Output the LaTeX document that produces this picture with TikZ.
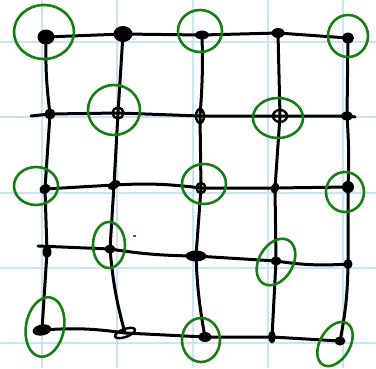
\documentclass[tikz,border=0pt]{standalone}
\usetikzlibrary{shapes.geometric}
\pgfdeclarelayer{bg}
\pgfsetlayers{bg,main}
\definecolor{gridblue}{RGB}{200,228,245}
\definecolor{ringgreen}{RGB}{20,128,20}
\tikzset{
  gridline/.style={gridblue, line width=1.6pt},
  edge/.style={black, line width=3pt, line cap=round, line join=round},
  dot/.style 2 args={ellipse, fill=black, inner sep=0pt, minimum width=#1, minimum height=#2},
  hole/.style 2 args={ellipse, draw=black, line width=2.4pt, inner sep=0pt, minimum width=#1, minimum height=#2},
  ring/.style={ringgreen, line width=2.6pt},
}
\begin{document}
\begin{tikzpicture}[x=1pt,y=1pt]
\useasboundingbox (0,0) rectangle (376,-368);
% nodes
\node[dot={17pt}{15pt}] (n11) at (46,-37) {};
\node[dot={19pt}{16pt}] (n12) at (123,-34) {};
\node[dot={14pt}{9pt}]  (n13) at (202,-35) {};
\node[dot={13pt}{10pt}] (n14) at (278,-33) {};
\node[dot={12pt}{11pt}] (n15) at (348,-38) {};
\node[dot={11pt}{11pt}] (n21) at (50,-114) {};
\node[hole={11pt}{11pt}] (n22) at (118,-113) {};
\node[hole={8pt}{14pt}] (n23) at (200,-116) {};
\node[hole={14pt}{12pt}] (n24) at (280,-116) {};
\node[dot={12pt}{9pt}]  (n25) at (347,-116) {};
\node[dot={12pt}{9pt},rotate=30] (n31) at (45,-189) {};
\node[dot={13pt}{8pt},rotate=30] (n32) at (114,-185) {};
\node[hole={9pt}{10pt}] (n33) at (201,-188) {};
\node[dot={8pt}{11pt},rotate=-20] (n34) at (275,-188) {};
\node[dot={12pt}{12pt}] (n35) at (348,-187) {};
\node[dot={9pt}{12pt}]  (n41) at (47,-252) {};
\node[dot={11pt}{9pt}]  (n42) at (110,-249) {};
\node[dot={21pt}{11pt}] (n43) at (196,-256) {};
\node[dot={11pt}{9pt}]  (n44) at (276,-261) {};
\node[dot={9pt}{10pt}]  (n45) at (348,-264) {};
\node[dot={19pt}{11pt},rotate=10] (n51) at (42,-330) {};
\node[hole={21pt}{8pt},rotate=20] (n52) at (125,-333) {};
\node[dot={13pt}{10pt}] (n53) at (205,-337) {};
\node[dot={7pt}{13pt}]  (n54) at (272,-337) {};
\node[dot={11pt}{9pt}]  (n55) at (340,-341) {};
\coordinate (s2) at (31,-116);
\coordinate (e2) at (355,-117);
\coordinate (s4) at (38,-246);
\begin{pgfonlayer}{bg}
  % graph paper
  \foreach \v in {42,117,193,268,343} {
    \draw[gridline] (\v,0) -- (\v,-368);
    \draw[gridline] (0,-\v) -- (376,-\v);
  }
  % rows
  \draw[edge] (n11.center) -- (n12.center) -- (n13.center) -- (n14.center) -- (n15.center);
  \draw[edge] (s2) -- (n21.center) -- (n22.center) -- (n23.center) -- (n24.center) -- (n25.center) -- (e2);
  \draw[edge] (n31.center) -- (n32.center) to[bend left=5] (n33.center) -- (n34.center) -- (n35.center);
  \draw[edge] (s4) -- (n42.center) to[bend right=4] (n43.center) -- (n44.center) to[bend right=6] (n45.center);
  \draw[edge] (n51.center) to[bend left=6] (n52.center) -- (n53.center) -- (n54.center) -- (n55.center);
  % columns
  \draw[edge] (n11.center) to[bend right=4] (n21.center) -- (n31.center) -- (n41.center) -- (n51.center);
  \draw[edge] (n12.center) -- (n22.center) -- (n32.center) -- (n42.center) to[bend right=5] (n52.center);
  \draw[edge] (n13.center) to[bend left=3] (n23.center) -- (n33.center) -- (n43.center) to[bend right=4] (n53.center);
  \draw[edge] (n14.center) -- (n24.center) -- (n34.center) -- (n44.center) -- (n54.center);
  \draw[edge] (n15.center) -- (n25.center) to[bend left=3] (n35.center) -- (n45.center) to[bend left=5] (n55.center);
\end{pgfonlayer}
% green rings
\draw[ring] ([shift={(-2,5)}]n11.center) ellipse [x radius=30pt, y radius=27pt];
\draw[ring] ([shift={(-2,4)}]n13.center) ellipse [x radius=22pt, y radius=21pt];
\draw[ring] ([shift={(0,2)}]n15.center) ellipse [x radius=20pt, y radius=21pt];
\draw[ring] ([shift={(-4,3)}]n22.center) ellipse [x radius=26pt, y radius=25pt];
\draw[ring] ([shift={(-2,-2)}]n24.center) ellipse [x radius=25pt, y radius=20pt];
\draw[ring] ([shift={(-9,3)}]n31.center) ellipse [x radius=22pt, y radius=19pt];
\draw[ring] ([shift={(3,4)}]n33.center) ellipse [x radius=22pt, y radius=20pt];
\draw[ring] ([shift={(-3,-5)}]n35.center) ellipse [x radius=19pt, y radius=20pt];
\draw[ring] ([shift={(-1,4)}]n42.center) ellipse [x radius=16pt, y radius=23pt];
\draw[ring] ([shift={(0,-1)}]n44.center) ellipse [x radius=25pt, y radius=17pt, rotate=60];
\draw[ring] ([shift={(3,3)}]n51.center) ellipse [x radius=30pt, y radius=19pt, rotate=80];
\draw[ring] ([shift={(-4,-3)}]n53.center) ellipse [x radius=19pt, y radius=22pt];
\draw[ring] ([shift={(-5,-3)}]n55.center) ellipse [x radius=24pt, y radius=15pt, rotate=60];
\draw[ringgreen, line width=1.2pt] ([shift={(23,13)}]n42.center) -- ++(3,0);
\end{tikzpicture}
\end{document}
